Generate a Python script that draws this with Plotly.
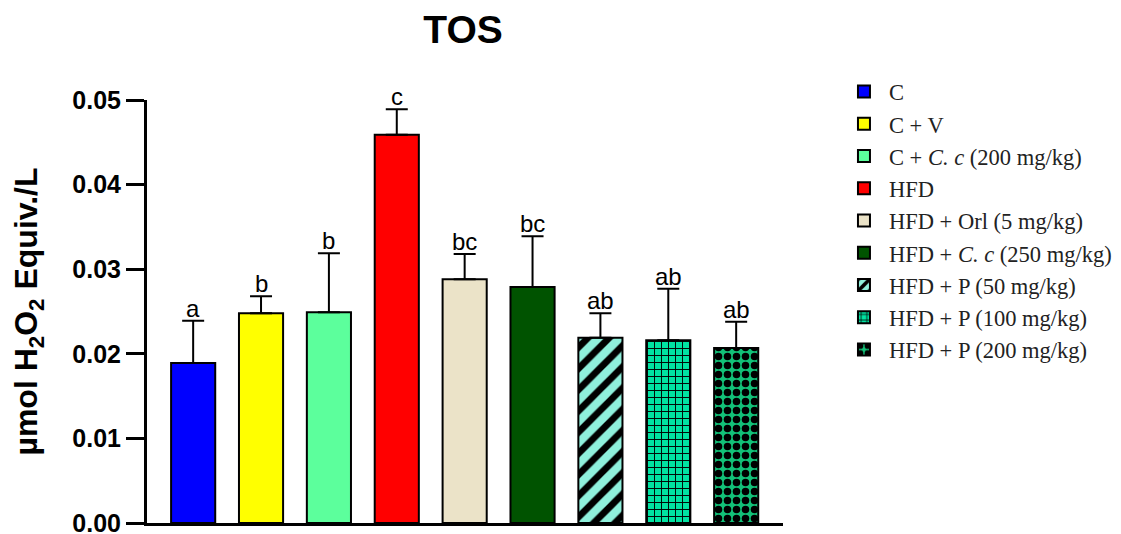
import plotly.graph_objects as go

groups = ["C", "C + V", "C + <i>C. c</i> (200 mg/kg)", "HFD", "HFD + Orl (5 mg/kg)",
          "HFD + <i>C. c</i> (250 mg/kg)", "HFD + P (50 mg/kg)", "HFD + P (100 mg/kg)",
          "HFD + P (200 mg/kg)"]
means = [0.0189, 0.0248, 0.0249, 0.0459, 0.0288, 0.0279, 0.0219, 0.0216, 0.0207]
errors = [0.0050, 0.0020, 0.0070, 0.0030, 0.0030, 0.0060, 0.0029, 0.0061, 0.0031]
letters = ["a", "b", "b", "c", "bc", "bc", "ab", "ab", "ab"]
fills = ["#0000ff", "#ffff00", "#5cff9c", "#ff0000", "#ebe3c8", "#005300",
         "#8ff0dc", "#00e3a2", "#12c178"]
patterns = ["", "", "", "", "", "", "/", "+", "."]
pattern_size = [8, 8, 8, 8, 8, 8, 15, 7, 9]
pattern_solid = [0.3, 0.3, 0.3, 0.3, 0.3, 0.3, 0.45, 0.25, 0.55]

cats = [f"g{i}" for i in range(len(groups))]

fig = go.Figure()
for i, g in enumerate(groups):
    marker = dict(color=fills[i], line=dict(color="black", width=2))
    if patterns[i]:
        marker["pattern"] = dict(shape=patterns[i], fgcolor="black", bgcolor=fills[i],
                                 fgopacity=1, size=pattern_size[i], solidity=pattern_solid[i],
                                 fillmode="overlay")
    fig.add_trace(go.Bar(
        x=[cats[i]], y=[means[i]], name=g, width=0.65, marker=marker,
        legendgroup=f"lg{i}",
        error_y=dict(type="data", symmetric=False, array=[errors[i]], arrayminus=[0],
                     color="black", thickness=2, width=11),
    ))
    fig.add_annotation(x=cats[i], y=means[i] + errors[i], text=letters[i], showarrow=False,
                       yanchor="bottom", yshift=-3, font=dict(family="Arial", size=24, color="black"))

# page body has an 8px margin: shrink the figure accordingly
W, H, OFF = 1121, 534, 8
fig.update_layout(
    width=W - OFF, height=H - OFF,
    margin=dict(l=147 - OFF, r=338, t=100 - OFF, b=11, autoexpand=False),
    paper_bgcolor="white", plot_bgcolor="white",
    barmode="overlay",
    title=dict(text="<b>TOS</b>", x=(463 - OFF) / (W - OFF), xanchor="center",
               y=1 - (29 - OFF) / (H - OFF), yanchor="middle",
               font=dict(family="Arial", size=39, color="black")),
    showlegend=True,
    legend=dict(x=1.088, y=1.07, xanchor="left", yanchor="top",
                font=dict(family="Liberation Serif", size=22.5, color="#222"),
                traceorder="grouped", tracegroupgap=0, itemwidth=40, maxheight=600,
                bgcolor="rgba(0,0,0,0)"),
)
tv = [0, 0.01, 0.02, 0.03, 0.04, 0.05]
fig.update_xaxes(type="category", categoryorder="array", categoryarray=cats,
                 range=[-0.68, 8.69], showticklabels=False, ticks="", automargin=False,
                 showline=True, linecolor="black", linewidth=3, showgrid=False, zeroline=False)
fig.update_yaxes(range=[0, 0.05], tickvals=tv, ticktext=[f"<b>{v:.2f}</b>" for v in tv],
                 ticks="outside", ticklen=18, tickwidth=3, tickcolor="black",
                 ticklabeloverflow="allow", automargin=False,
                 showline=True, linecolor="black", linewidth=3, showgrid=False, zeroline=False,
                 tickfont=dict(family="Arial", size=25, color="black"),
                 title=dict(text="<b>µmol H<sub>2</sub>O<sub>2</sub> Equiv./L</b>",
                            font=dict(family="Arial", size=32, color="black"), standoff=44))

fig.write_html("out.html")
